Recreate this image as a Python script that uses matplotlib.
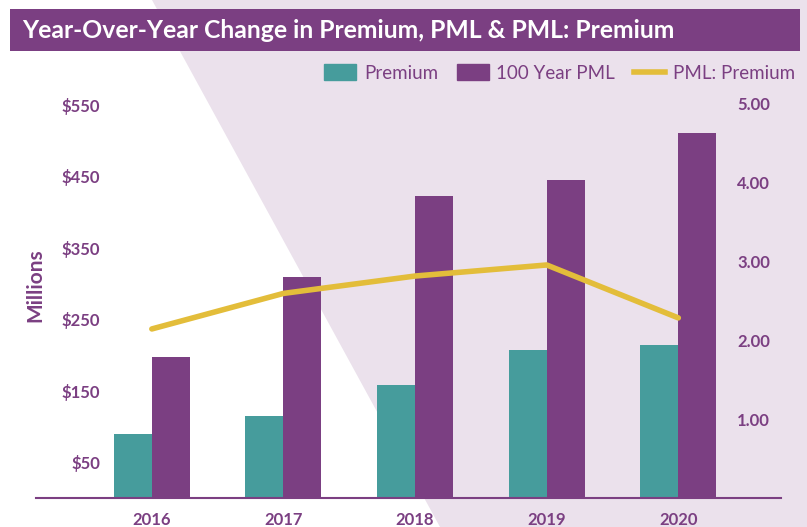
import matplotlib
matplotlib.use("Agg")
import matplotlib.pyplot as plt
import numpy as np
from matplotlib.patches import Polygon, Rectangle
from matplotlib.lines import Line2D

# data
years = ["2016", "2017", "2018", "2019", "2020"]
premium = [90, 115, 158, 207, 214]          # $ millions
pml_100yr = [197, 309, 423, 445, 511]       # $ millions
pml_ratio = [2.14, 2.59, 2.81, 2.95, 2.28]  # PML : Premium

left_ticks = [50, 150, 250, 350, 450, 550]
right_ticks = [1, 2, 3, 4, 5]

purple = "#7B3F82"
teal = "#469C9C"
gold = "#E3BD3A"
lavender = "#EBE1EC"

plt.rcParams["font.family"] = ["Lato", "DejaVu Sans"]

W, H = 807, 527
fig = plt.figure(figsize=(W / 100, H / 100), dpi=100, facecolor=lavender)

def fx(px):
    return px / W

def fy(py):
    return 1 - py / H

# white diagonal wedge on the left (behind everything)
fig.patches.append(Polygon([(0, 1), (fx(152), 1), (fx(440), 0), (0, 0)],
                           closed=True, transform=fig.transFigure,
                           facecolor="white", edgecolor="none", zorder=-10))
# title bar
fig.patches.append(Rectangle((fx(10), fy(51)), fx(790), 42 / H,
                             transform=fig.transFigure, facecolor=purple,
                             edgecolor="none", zorder=-5))
fig.text(fx(22), fy(31), "Year-Over-Year Change in Premium, PML & PML: Premium",
         color="white", fontsize=17.8, fontweight="bold", va="center", ha="left")

ax = fig.add_axes([fx(36), fy(498), fx(781 - 36), (498 - 90) / H])
ax.set_facecolor("none")
x = np.arange(len(years))
w = 0.289
ax.bar(x - w / 2, premium, w, color=teal, label="Premium", zorder=2)
ax.bar(x + w / 2, pml_100yr, w, color=purple, label="100 Year PML", zorder=2)

ax.set_xlim(-0.88, 4.78)
ax.set_ylim(0, 571)
ax.set_yticks(left_ticks)
ax.set_yticklabels(["$%d" % t for t in left_ticks])
ax.set_xticks(x)
ax.set_xticklabels(years)
for s in ["top", "left", "right"]:
    ax.spines[s].set_visible(False)
ax.spines["bottom"].set_color(purple)
ax.spines["bottom"].set_linewidth(1.5)
ax.tick_params(axis="x", length=0, pad=10, labelsize=12, labelcolor=purple)
ax.tick_params(axis="y", length=0, pad=-46, labelsize=12, labelcolor=purple)
for lbl in ax.get_yticklabels() + ax.get_xticklabels():
    lbl.set_fontweight("bold")

ax2 = ax.twinx()
ax2.plot(x, pml_ratio, color=gold, lw=4, solid_capstyle="round", zorder=3)
ax2.set_ylim(0, 5.165)
ax2.set_yticks(right_ticks)
ax2.set_yticklabels(["%.2f" % t for t in right_ticks])
for s in ["top", "left", "right", "bottom"]:
    ax2.spines[s].set_visible(False)
ax2.tick_params(axis="y", length=0, pad=-8, labelsize=12, labelcolor=purple)
for lbl in ax2.get_yticklabels():
    lbl.set_fontweight("bold")
    lbl.set_horizontalalignment("right")

fig.text(fx(35), fy(285), "Millions", rotation=90, color=purple,
         fontsize=15, fontweight="bold", va="center", ha="center")

handles = [Rectangle((0, 0), 1, 1, color=teal),
           Rectangle((0, 0), 1, 1, color=purple),
           Line2D([0], [0], color=gold, lw=4)]
fig.legend(handles, ["Premium", "100 Year PML", "PML: Premium"],
           loc="center right", bbox_to_anchor=(fx(795), fy(73)), ncol=3,
           frameon=False, fontsize=13.5, labelcolor=purple, handlelength=1.7,
           handleheight=0.9, handletextpad=0.4, columnspacing=1.0,
           borderaxespad=0, borderpad=0)

fig.savefig("out.png", dpi=100, facecolor=lavender)
